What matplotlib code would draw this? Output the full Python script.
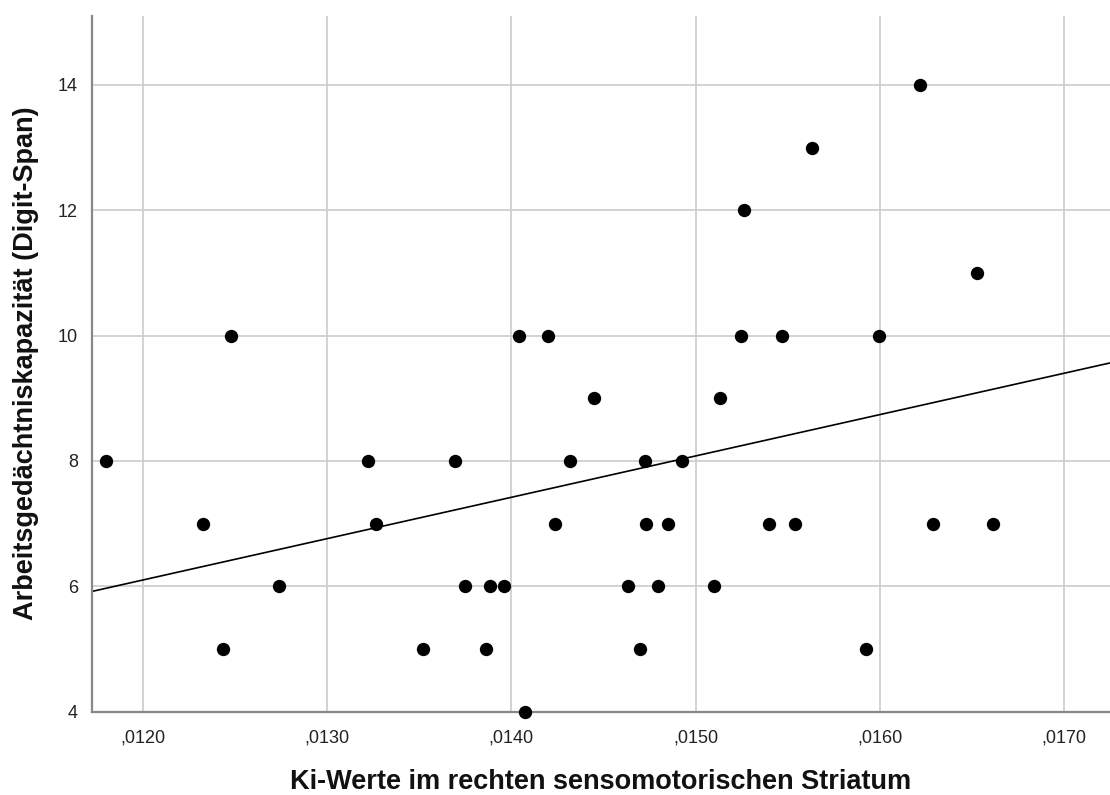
import matplotlib.pyplot as plt
import numpy as np
from matplotlib.ticker import FuncFormatter

# Ki values (right sensorimotor striatum) and digit span scores
ki_werte = [
    0.011801, 0.012329, 0.012437, 0.012479, 0.012738, 0.013221, 0.013266,
    0.013521, 0.013696, 0.013749, 0.013863, 0.013883, 0.013959, 0.014043,
    0.014074, 0.014197, 0.014239, 0.014318, 0.014449, 0.014633, 0.014700,
    0.014725, 0.014729, 0.014794, 0.014849, 0.014928, 0.015098, 0.015134,
    0.015245, 0.015263, 0.015400, 0.015470, 0.015539, 0.015633, 0.015925,
    0.015993, 0.016219, 0.016287, 0.016529, 0.016614,
]
digit_span = [
    8, 7, 5, 10, 6, 8, 7,
    5, 8, 6, 5, 6, 6, 10,
    4, 10, 7, 8, 9, 6, 5,
    8, 7, 6, 7, 8, 6, 9,
    10, 12, 7, 10, 7, 13, 5,
    10, 14, 7, 11, 7,
]

x_ticks = [0.0120, 0.0130, 0.0140, 0.0150, 0.0160, 0.0170]
y_ticks = [4, 6, 8, 10, 12, 14]

plt.rcParams["font.family"] = ["Liberation Sans", "DejaVu Sans"]

x = np.array(ki_werte)
y = np.array(digit_span)

fig = plt.figure(figsize=(11.1, 7.95), dpi=100)
ax = fig.add_axes([0.0826, 0.1048, 0.9174, 0.8751])

xmin, xmax = 0.011723, 0.017248
ax.set_xlim(xmin, xmax)
ax.set_ylim(4, 15.1)

ax.grid(True, color="#cccccc", linewidth=1.2, zorder=0)
ax.set_axisbelow(True)

ax.scatter(x, y, s=92, color="black", zorder=3, linewidths=0, clip_on=False)

# linear fit line over the whole x range
slope, intercept = np.polyfit(x, y, 1)
xs = np.array([xmin, xmax])
ax.plot(xs, slope * xs + intercept, color="black", linewidth=1.2, zorder=2)

ax.set_xticks(x_ticks)
ax.set_yticks(y_ticks)
ax.xaxis.set_major_formatter(FuncFormatter(lambda v, p: ("%.4f" % v)[1:].replace(".", ",")))
ax.tick_params(length=0, labelsize=13, colors="#222222", pad=13)
ax.tick_params(axis="y", pad=10)

for side in ["top", "right"]:
    ax.spines[side].set_visible(False)
for side in ["left", "bottom"]:
    ax.spines[side].set_color("#888888")
    ax.spines[side].set_linewidth(1.6)

fig.text(0.5413, 0.0164, "Ki-Werte im rechten sensomotorischen Striatum",
         fontsize=19.5, fontweight="bold", ha="center", va="center", color="#111111")
fig.text(0.0234, 0.543, "Arbeitsgedächtniskapazität (Digit-Span)",
         fontsize=19.5, fontweight="bold", ha="center", va="center",
         rotation=90, color="#111111")

fig.savefig("out.png", dpi=100)
